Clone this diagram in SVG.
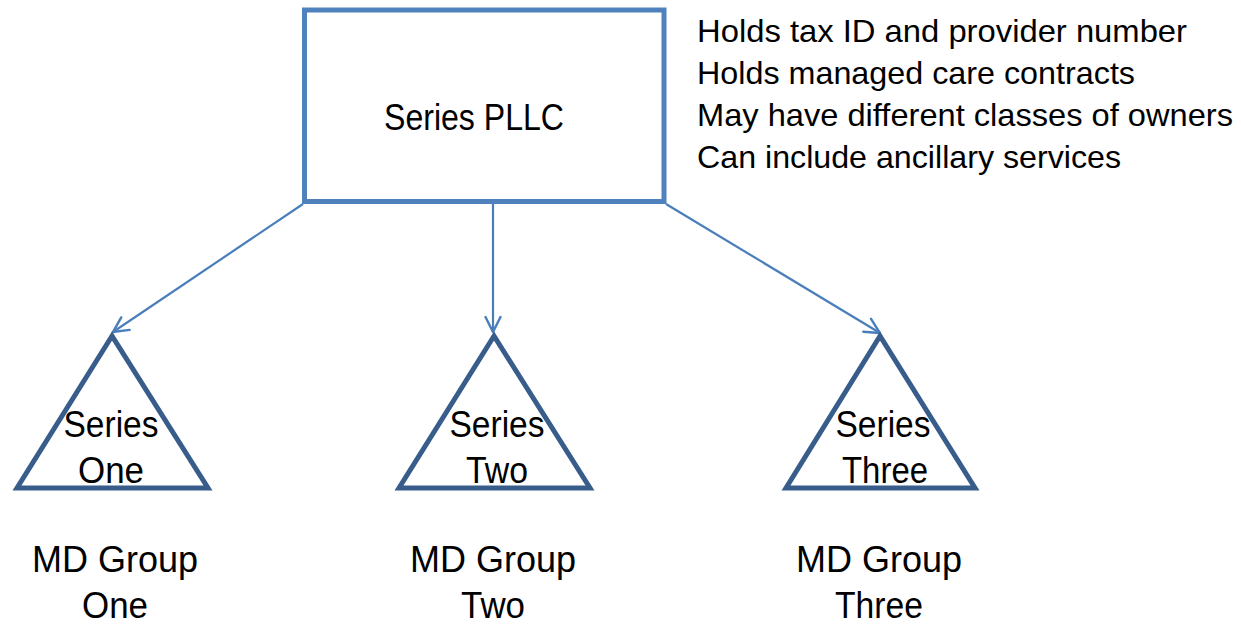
<svg xmlns="http://www.w3.org/2000/svg" width="1241" height="626" viewBox="0 0 1241 626">
  <style>
    .lbl { font-family: "Liberation Sans", Arial, sans-serif; fill: #000000; }
    .big { font-size: 36px; text-anchor: middle; }
    .note { font-size: 32px; }
    .box { fill: #FFFFFF; stroke: #4F81BD; stroke-width: 5; }
    .tri { fill: #FFFFFF; stroke: #385D8A; stroke-width: 5; stroke-linejoin: miter; }
    .link { stroke: #4A7EBB; stroke-width: 2.2; fill: none; marker-end: url(#openArrow); }
  </style>
  <defs>
    <marker id="openArrow" viewBox="0 0 18 18" refX="17" refY="9" markerWidth="18" markerHeight="18" markerUnits="userSpaceOnUse" orient="auto">
      <path d="M2,1.5 L17,9 L2,16.5" fill="none" stroke="#4A7EBB" stroke-width="2.4" stroke-linecap="round" stroke-linejoin="miter"/>
    </marker>
  </defs>

  <rect width="1241" height="626" fill="#FFFFFF"/>

  <!-- connectors from the parent entity to each series -->
  <g id="connectors">
    <line class="link" x1="303" y1="204" x2="113" y2="332"/>
    <line class="link" x1="493" y1="204" x2="493" y2="332"/>
    <line class="link" x1="666" y1="204" x2="880" y2="333"/>
  </g>

  <g id="series-pllc">
    <rect class="box" x="304.5" y="10" width="359.5" height="191.5"/>
    <text class="lbl big" x="474" y="130" textLength="180" lengthAdjust="spacingAndGlyphs">Series PLLC</text>
  </g>

  <g id="notes">
    <text class="lbl note" x="697" y="42" textLength="490" lengthAdjust="spacingAndGlyphs">Holds tax ID and provider number</text>
    <text class="lbl note" x="697" y="84" textLength="438" lengthAdjust="spacingAndGlyphs">Holds managed care contracts</text>
    <text class="lbl note" x="697" y="126" textLength="536" lengthAdjust="spacingAndGlyphs">May have different classes of owners</text>
    <text class="lbl note" x="697" y="168" textLength="424" lengthAdjust="spacingAndGlyphs">Can include ancillary services</text>
  </g>

  <g id="series-one">
    <polygon class="tri" points="112,336 17,488 208,488"/>
    <text class="lbl big" x="111" y="437" textLength="95" lengthAdjust="spacingAndGlyphs">Series</text>
    <text class="lbl big" x="111" y="483" textLength="66" lengthAdjust="spacingAndGlyphs">One</text>
  </g>

  <g id="series-two">
    <polygon class="tri" points="494,336 399,488 590,488"/>
    <text class="lbl big" x="497" y="437" textLength="95" lengthAdjust="spacingAndGlyphs">Series</text>
    <text class="lbl big" x="497" y="483" textLength="62" lengthAdjust="spacingAndGlyphs">Two</text>
  </g>

  <g id="series-three">
    <polygon class="tri" points="880,336 786,488 975,488"/>
    <text class="lbl big" x="883" y="437" textLength="95" lengthAdjust="spacingAndGlyphs">Series</text>
    <text class="lbl big" x="885" y="483" textLength="86" lengthAdjust="spacingAndGlyphs">Three</text>
  </g>

  <g id="md-group-one">
    <text class="lbl big" x="115" y="572" textLength="166" lengthAdjust="spacingAndGlyphs">MD Group</text>
    <text class="lbl big" x="115" y="618" textLength="66" lengthAdjust="spacingAndGlyphs">One</text>
  </g>

  <g id="md-group-two">
    <text class="lbl big" x="493" y="572" textLength="166" lengthAdjust="spacingAndGlyphs">MD Group</text>
    <text class="lbl big" x="493" y="618" textLength="64" lengthAdjust="spacingAndGlyphs">Two</text>
  </g>

  <g id="md-group-three">
    <text class="lbl big" x="879" y="572" textLength="166" lengthAdjust="spacingAndGlyphs">MD Group</text>
    <text class="lbl big" x="879" y="618" textLength="88" lengthAdjust="spacingAndGlyphs">Three</text>
  </g>
</svg>
